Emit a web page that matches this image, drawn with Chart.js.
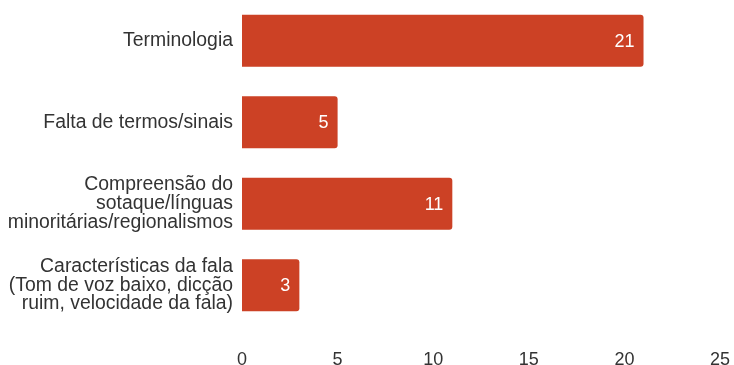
<!DOCTYPE html>
<html><head><meta charset="utf-8">
<script src="https://cdn.jsdelivr.net/npm/chart.js@4/dist/chart.umd.min.js"></script>
<style>html,body{margin:0;padding:0;background:#fff}#wrap{width:734px;height:365px}</style>
</head><body><div id="wrap"><canvas id="c" width="734" height="365"></canvas></div>
<script>
const categories = [
  ["Terminologia"],
  ["Falta de termos/sinais"],
  ["Compreensão do", "sotaque/línguas", "minoritárias/regionalismos"],
  ["Características da fala", "(Tom de voz baixo, dicção", "ruim, velocidade da fala)"]
];
const values = [21, 5, 11, 3];
const xTicks = [0, 5, 10, 15, 20, 25];

const FONT = "'Liberation Sans', Arial, sans-serif";

const barLabels = {
  id: 'barLabels',
  afterDatasetsDraw(chart) {
    const ctx = chart.ctx;
    const meta = chart.getDatasetMeta(0);
    ctx.save();
    ctx.fillStyle = '#ffffff';
    ctx.font = '18px ' + FONT;
    ctx.textAlign = 'right';
    ctx.textBaseline = 'middle';
    meta.data.forEach((bar, i) => {
      ctx.fillText(String(values[i]), bar.x - 9, bar.y + 1);
    });
    ctx.restore();
  }
};

new Chart(document.getElementById('c'), {
  type: 'bar',
  data: {
    labels: categories,
    datasets: [{
      data: values,
      backgroundColor: '#cc4125',
      borderRadius: 3,
      borderSkipped: 'start',
      categoryPercentage: 1,
      barPercentage: 0.64
    }]
  },
  options: {
    indexAxis: 'y',
    responsive: false,
    animation: false,
    layout: { padding: { left: 0, right: 14, top: 0, bottom: 0 } },
    plugins: { legend: { display: false }, tooltip: { enabled: false } },
    scales: {
      x: {
        min: 0, max: 25,
        afterBuildTicks(axis) { axis.ticks = xTicks.map(v => ({ value: v })); },
        grid: { display: false, drawTicks: false },
        border: { display: false },
        ticks: { color: '#333', font: { family: FONT, size: 18 }, padding: 23, maxRotation: 0 },
        afterFit(axis) { axis.height = 39; axis.paddingLeft = 0; axis.paddingRight = 0; }
      },
      y: {
        grid: { display: false, drawTicks: false },
        border: { display: false },
        ticks: { color: '#333', font: { family: FONT, size: 19.4, lineHeight: 0.96 }, padding: 9 },
        afterFit(axis) { axis.width = 242; axis.paddingTop = 0; axis.paddingBottom = 0; }
      }
    }
  },
  plugins: [barLabels]
});
</script></body></html>
